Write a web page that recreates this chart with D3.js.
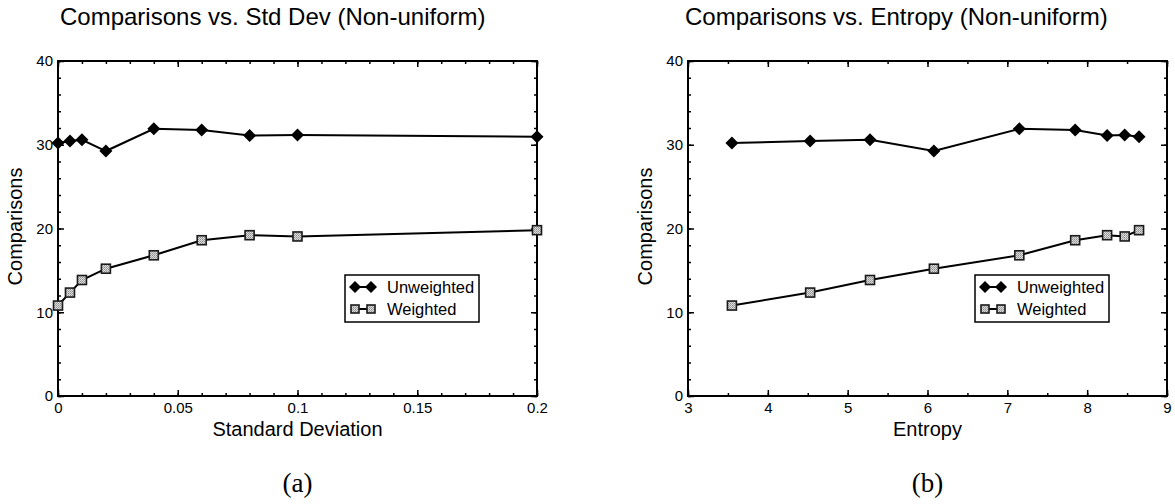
<!DOCTYPE html>
<html>
<head>
<meta charset="utf-8">
<script src="https://cdnjs.cloudflare.com/ajax/libs/d3/7.8.5/d3.min.js"></script>
<style>
body { margin: 0; background: #fff; }
svg text { font-family: "Liberation Sans", Arial, Helvetica, sans-serif; fill: #000; }
</style>
</head>
<body>
<div id="chart"></div>
<script>

//x values of the two panels (same runs, in the same order)
var stdDev  = [0, 0.005, 0.01, 0.02, 0.04, 0.06, 0.08, 0.1, 0.2];
var entropy = [3.55, 4.53, 5.28, 6.08, 7.15, 7.85, 8.25, 8.47, 8.65];

//Comparisons for each run
var unweighted = [30.2, 30.45, 30.6, 29.25, 31.9, 31.75, 31.1, 31.15, 30.95];
var weighted   = [10.8, 12.35, 13.85, 15.2, 16.8, 18.6, 19.2, 19.05, 19.8];

var seriesNames = ["Unweighted", "Weighted"];

//tick values and labels
var yTicks = [0, 10, 20, 30, 40];
var yTickLabels = ["0", "10", "20", "30", "40"];
var sdTicks = [0, 0.05, 0.1, 0.15, 0.2];
var sdTickLabels = ["0", "0.05", "0.1", "0.15", "0.2"];
var entTicks = [3, 4, 5, 6, 7, 8, 9];
var entTickLabels = ["3", "4", "5", "6", "7", "8", "9"];

var width = 1175;
var height = 504;

var svg = d3.select("#chart").append("svg")
    .attr("width", width)
    .attr("height", height);

//gray checker fill for the square markers
var pat = svg.append("defs").append("pattern")
    .attr("id", "checker")
    .attr("width", 2)
    .attr("height", 2)
    .attr("patternUnits", "userSpaceOnUse");
pat.append("rect").attr("width", 2).attr("height", 2).attr("fill", "#dcdcdc");
pat.append("rect").attr("width", 1).attr("height", 1).attr("fill", "#8c8c8c");
pat.append("rect").attr("x", 1).attr("y", 1).attr("width", 1).attr("height", 1).attr("fill", "#a8a8a8");

//plot area
var plotTop = 61,
    plotW = 479,
    plotH = 335;

function diamond(sel, cx, cy, r) {
	sel.append("path")
		.attr("d", "M" + cx + "," + (cy - r) + "L" + (cx + r) + "," + cy + "L" + cx + "," + (cy + r) + "L" + (cx - r) + "," + cy + "Z")
		.attr("fill", "#000");
}

function square(sel, cx, cy, s) {
	sel.append("rect")
		.attr("x", cx - s / 2)
		.attr("y", cy - s / 2)
		.attr("width", s)
		.attr("height", s)
		.attr("fill", "url(#checker)")
		.attr("stroke", "#1a1a1a")
		.attr("stroke-width", 1.6);
}

function drawPanel(o) {
	var g = svg.append("g")
		.attr("transform", "translate(" + o.left + "," + plotTop + ")");

	var x = d3.scaleLinear().domain(o.xDomain).range([0, plotW]);
	var y = d3.scaleLinear().domain([0, 40]).range([plotH, 0]);

	var xMinor = d3.range(o.xDomain[0], o.xDomain[1] + o.xMinorStep / 2, o.xMinorStep);
	var yMinor = d3.range(0, 41, 2);

	//minor ticks on all four sides
	[d3.axisBottom(x).tickValues(xMinor), d3.axisTop(x).tickValues(xMinor)].forEach(function (ax, i) {
		g.append("g")
			.attr("class", "minor")
			.attr("transform", "translate(0," + (i == 0 ? plotH : 0) + ")")
			.call(ax.tickSize(-3).tickFormat(""));
	});
	[d3.axisLeft(y).tickValues(yMinor), d3.axisRight(y).tickValues(yMinor)].forEach(function (ax, i) {
		g.append("g")
			.attr("class", "minor")
			.attr("transform", "translate(" + (i == 0 ? 0 : plotW) + ",0)")
			.call(ax.tickSize(-3).tickFormat(""));
	});

	//major ticks
	g.append("g")
		.attr("class", "major")
		.attr("transform", "translate(0," + plotH + ")")
		.call(d3.axisBottom(x).tickValues(o.xTicks).tickSize(-6).tickPadding(6)
			.tickFormat(function (d, i) { return o.xTickLabels[i]; }));
	g.append("g")
		.attr("class", "major")
		.call(d3.axisTop(x).tickValues(o.xTicks).tickSize(-6).tickFormat(""));
	g.append("g")
		.attr("class", "major")
		.call(d3.axisLeft(y).tickValues(yTicks).tickSize(-6).tickPadding(5)
			.tickFormat(function (d, i) { return yTickLabels[i]; }));
	g.append("g")
		.attr("class", "major")
		.attr("transform", "translate(" + plotW + ",0)")
		.call(d3.axisRight(y).tickValues(yTicks).tickSize(-6).tickFormat(""));

	g.selectAll(".domain").remove();
	g.selectAll(".tick line").attr("stroke", "#000").attr("stroke-width", 1.5);
	g.selectAll(".tick text").attr("font-size", 15).attr("fill", "#000")
		.attr("font-family", "Liberation Sans, Arial, sans-serif");

	//frame
	g.append("rect")
		.attr("width", plotW)
		.attr("height", plotH)
		.attr("fill", "none")
		.attr("stroke", "#000")
		.attr("stroke-width", 2);

	//lines and markers
	var line = d3.line()
		.x(function (d, i) { return x(o.xs[i]); })
		.y(function (d) { return y(d); });

	[unweighted, weighted].forEach(function (vals, k) {
		g.append("path")
			.datum(vals)
			.attr("d", line)
			.attr("fill", "none")
			.attr("stroke", "#000")
			.attr("stroke-width", 2);
		vals.forEach(function (v, i) {
			if (k == 0) diamond(g, x(o.xs[i]), y(v), 6.5);
			else square(g, x(o.xs[i]), y(v), 9);
		});
	});

	//legend
	var lg = g.append("g").attr("transform", "translate(287,214)");
	lg.append("rect")
		.attr("width", 134)
		.attr("height", 47)
		.attr("fill", "#fff")
		.attr("stroke", "#000")
		.attr("stroke-width", 1.5);
	seriesNames.forEach(function (name, k) {
		var cy = 12 + k * 22;
		lg.append("line")
			.attr("x1", 10).attr("x2", 26)
			.attr("y1", cy).attr("y2", cy)
			.attr("stroke", "#000")
			.attr("stroke-width", 2);
		if (k == 0) { diamond(lg, 10, cy, 6); diamond(lg, 26, cy, 6); }
		else { square(lg, 10, cy, 8); square(lg, 26, cy, 8); }
		lg.append("text")
			.attr("x", 42)
			.attr("y", cy)
			.attr("dy", "0.35em")
			.attr("font-size", 16.5)
			.text(name);
	});

	//axis titles
	g.append("text")
		.attr("x", plotW / 2)
		.attr("y", plotH + 40)
		.attr("text-anchor", "middle")
		.attr("font-size", 20)
		.text(o.xTitle);
	g.append("text")
		.attr("transform", "translate(" + (-36) + "," + (plotH / 2 - 2) + ")rotate(-90)")
		.attr("text-anchor", "middle")
		.attr("font-size", 20)
		.text("Comparisons");

	//chart title
	svg.append("text")
		.attr("x", o.titleX)
		.attr("y", 25)
		.attr("font-size", 24)
		.text(o.title);

	//sub-figure label
	svg.append("text")
		.attr("x", o.left + plotW / 2)
		.attr("y", 492)
		.attr("text-anchor", "middle")
		.attr("font-size", 27)
		.style("font-family", "\"Liberation Serif\", \"DejaVu Serif\", serif")
		.text(o.label);
}

drawPanel({
	left: 58,
	xDomain: [0, 0.2],
	xMinorStep: 0.01,
	xTicks: sdTicks,
	xTickLabels: sdTickLabels,
	xs: stdDev,
	xTitle: "Standard Deviation",
	title: "Comparisons vs. Std Dev (Non-uniform)",
	titleX: 60,
	label: "(a)"
});

drawPanel({
	left: 688,
	xDomain: [3, 9],
	xMinorStep: 0.5,
	xTicks: entTicks,
	xTickLabels: entTickLabels,
	xs: entropy,
	xTitle: "Entropy",
	title: "Comparisons vs. Entropy (Non-uniform)",
	titleX: 685,
	label: "(b)"
});

</script>
</body>
</html>
